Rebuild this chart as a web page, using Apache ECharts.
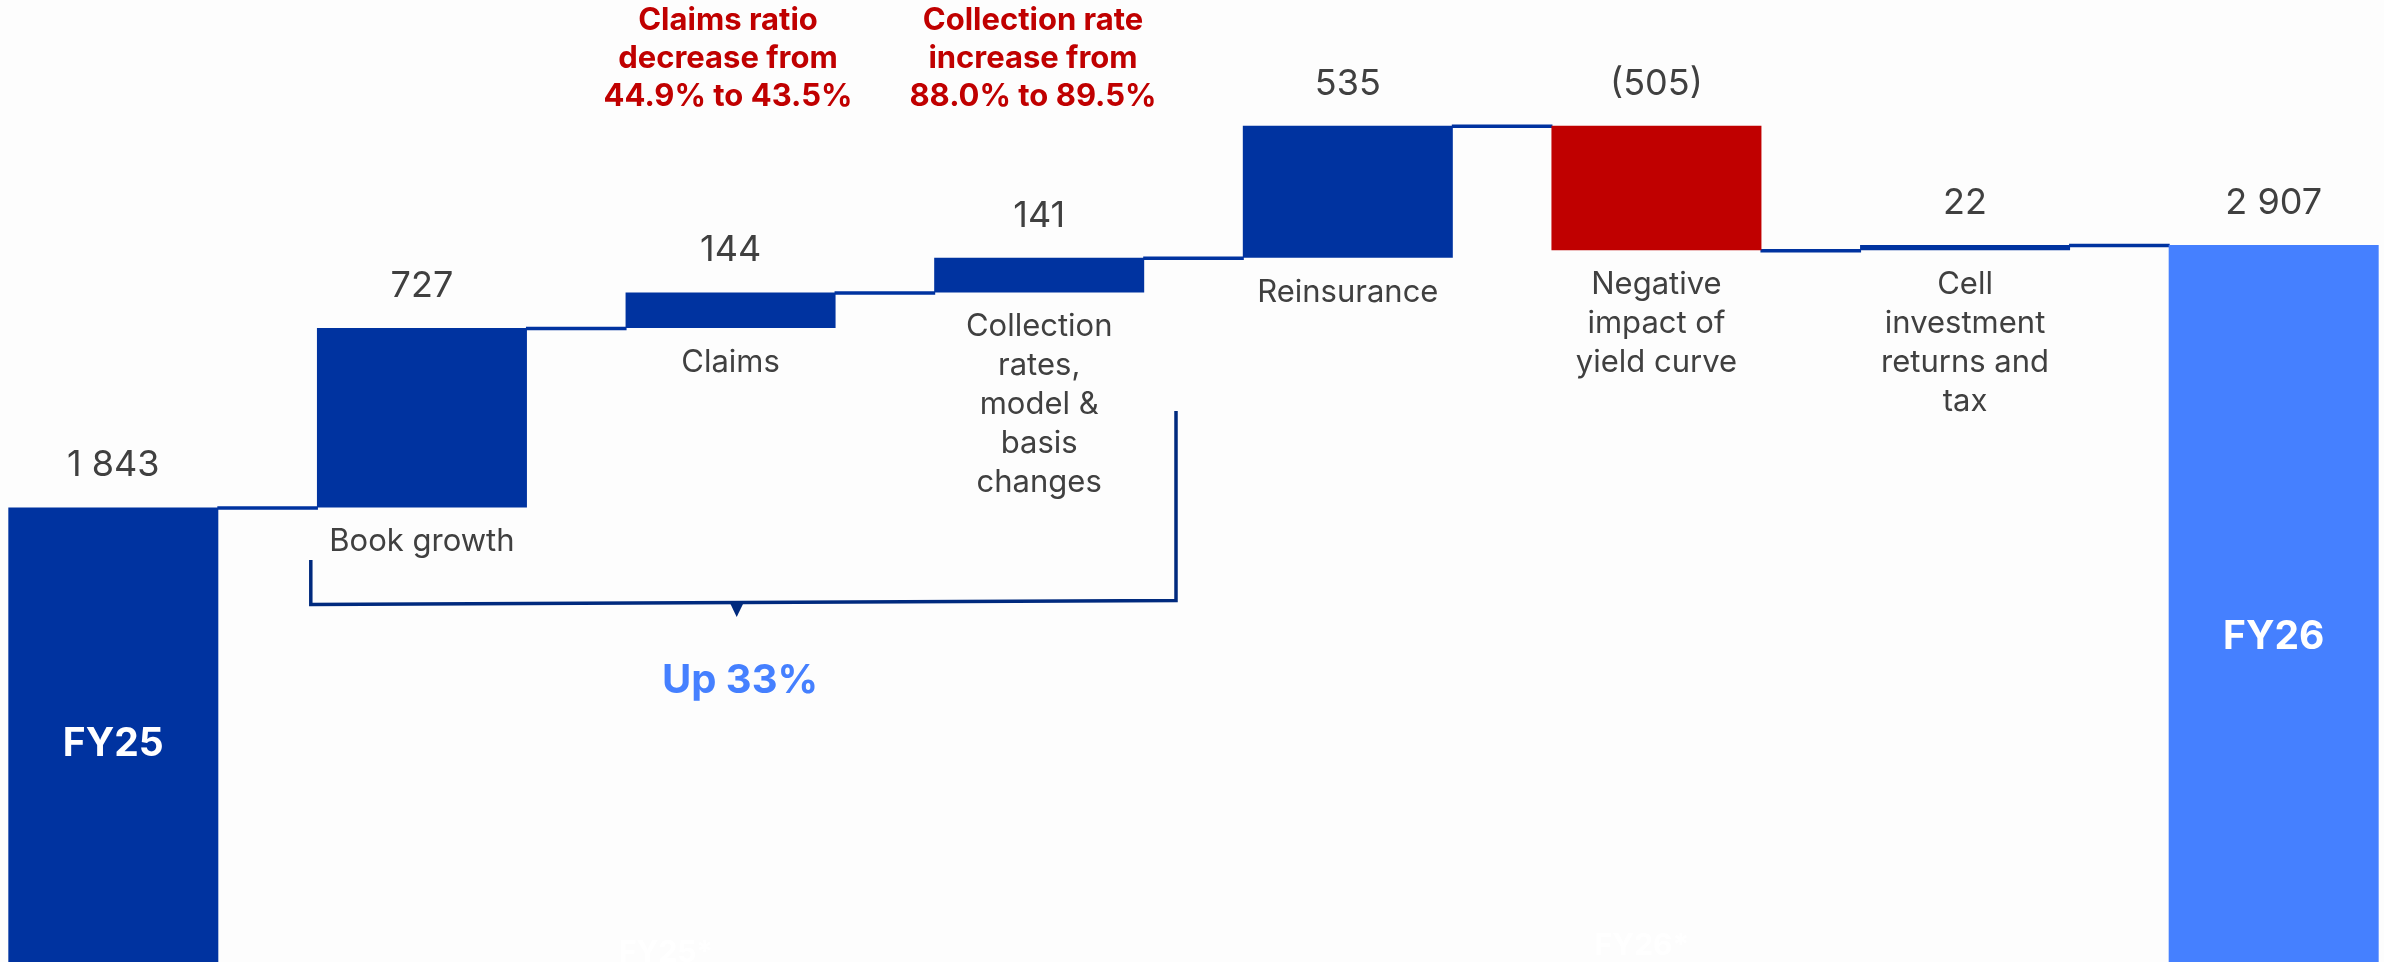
<!DOCTYPE html>
<html><head><meta charset="utf-8">
<script src="https://cdn.jsdelivr.net/npm/echarts@6/dist/echarts.min.js"></script>
<style>html,body{margin:0;padding:0;background:#fdfdfd;} #c{width:2384px;height:962px;}</style>
</head><body><div id="c"></div>
<script>
// ---- data ----
const categories = ['FY25', 'Book growth', 'Claims', 'Collection\nrates,\nmodel &\nbasis\nchanges', 'Reinsurance', 'Negative\nimpact of\nyield curve', 'Cell\ninvestment\nreturns and\ntax', 'FY26'];
const values = [1843, 727, 144, 141, 535, -505, 22, 2907];
const isTotal = [true, false, false, false, false, false, false, true];
const noteClaims = 'Claims ratio\ndecrease from\n44.9% to 43.5%';
const noteCollection = 'Collection rate\nincrease from\n88.0% to 89.5%';
const growthNote = 'Up 33%';
const ghostLabels = ['FY25*', 'FY26*'];

// ---- styles ----
const FONT = 'Inter, "Noto Sans", sans-serif';
const DARK = '#0033A0', LIGHT = '#4580FF', RED = '#C00000', TXT = '#404040', NAVY = '#002A7E';
const BAR_W = 210;
const fyOffsetY = { 0: 10, 7: 34 };

// ---- waterfall build ----
let running = 0;
const base = [], height = [], level = [];
values.forEach((v, i) => {
  if (isTotal[i]) { base.push(0); height.push(v); running = v; }
  else { const nt = running + v; base.push(Math.min(running, nt)); height.push(Math.abs(v)); running = nt; }
  level.push(running);
});
function barColor(i) {
  if (isTotal[i]) return i === 0 ? DARK : LIGHT;
  return values[i] < 0 ? RED : DARK;
}
function fmt(v) {
  const s = String(Math.abs(v)).replace(/\B(?=(\d{3})+(?!\d))/g, ' ');
  return v < 0 ? '(' + s + ')' : s;
}
const totalsData = values.map((v, i) => [i, v]).filter((d, i) => isTotal[i]);
const connectorData = level.slice(0, -1).map((l, i) => [i, l]);

const chart = echarts.init(document.getElementById('c'), null, { renderer: 'canvas' });
chart.setOption({
  backgroundColor: '#fdfdfd',
  animation: false,
  grid: { left: -41, right: -44, top: 0, bottom: 0, containLabel: false, outerBoundsMode: 'none' },
  xAxis: { type: 'category', data: categories, show: false, boundaryGap: true },
  yAxis: { type: 'value', min: 0, max: 3900, show: false, splitLine: { show: false } },
  series: [
    {
      type: 'custom', data: connectorData, z: 1, silent: true,
      renderItem: (params, api) => {
        const i = api.value(0), l = api.value(1);
        const p = api.coord([i, l]), q = api.coord([i + 1, l]);
        return {
          type: 'line',
          shape: { x1: p[0] + BAR_W / 2 - 1, y1: p[1] + 0.5, x2: q[0] - BAR_W / 2 + 1, y2: p[1] + 0.5 },
          style: { stroke: DARK, lineWidth: 3.5 }
        };
      }
    },
    {
      type: 'bar', stack: 'w', data: base, barWidth: BAR_W, z: 2, silent: true,
      itemStyle: { color: 'rgba(0,0,0,0)' },
      label: {
        show: true, position: 'insideTop', distance: 15,
        formatter: p => isTotal[p.dataIndex] ? '' : categories[p.dataIndex],
        color: TXT, fontSize: 31, lineHeight: 39, fontFamily: FONT, align: 'center'
      }
    },
    {
      type: 'bar', stack: 'w', barWidth: BAR_W, z: 3,
      data: height.map((h, i) => ({ value: h, itemStyle: { color: barColor(i) } })),
      label: {
        show: true, position: 'top', distance: 24,
        formatter: p => fmt(values[p.dataIndex]),
        color: TXT, fontSize: 36, fontFamily: FONT
      }
    },
    {
      type: 'custom', data: totalsData, z: 4, silent: true,
      renderItem: (params, api) => {
        const i = api.value(0), v = api.value(1);
        const p = api.coord([i, v / 2]);
        return {
          type: 'text', x: p[0], y: p[1] + (fyOffsetY[i] || 0),
          style: { text: categories[i], fill: '#ffffff', font: 'bold 39px ' + FONT, align: 'center', verticalAlign: 'middle' }
        };
      }
    }
  ],
  graphic: [
    { type: 'text', x: 728, y: 1.5, style: { text: noteClaims, fill: RED, font: 'bold 31px ' + FONT, lineHeight: 38.2, align: 'center', verticalAlign: 'top' } },
    { type: 'text', x: 1033, y: 1.5, style: { text: noteCollection, fill: RED, font: 'bold 31px ' + FONT, lineHeight: 38.2, align: 'center', verticalAlign: 'top' } },
    { type: 'polyline', shape: { points: [[310.8, 560], [310.8, 604.5], [1176, 600.5], [1176, 411]] }, style: { stroke: NAVY, lineWidth: 3.5, fill: null } },
    { type: 'polygon', shape: { points: [[730, 603], [743.5, 603], [736.7, 617]] }, style: { fill: NAVY } },
    { type: 'text', x: 740, y: 680.6, style: { text: growthNote, fill: LIGHT, font: 'bold 40px ' + FONT, align: 'center', verticalAlign: 'middle' } },
    { type: 'text', x: 666, y: 952.6, style: { text: ghostLabels[0], fill: '#ffffff', font: 'bold 30px ' + FONT, align: 'center', verticalAlign: 'middle' } },
    { type: 'text', x: 1642, y: 946, style: { text: ghostLabels[1], fill: '#ffffff', font: 'bold 30px ' + FONT, align: 'center', verticalAlign: 'middle' } }
  ]
});
</script>
</body></html>
